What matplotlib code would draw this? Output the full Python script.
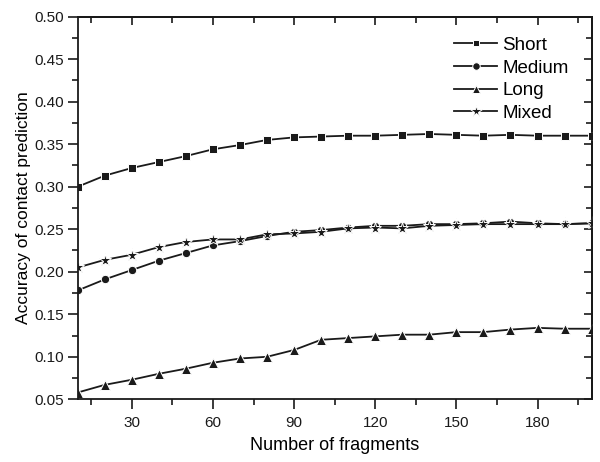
import matplotlib
matplotlib.use("Agg")
from matplotlib import pyplot as plt
from matplotlib.ticker import MultipleLocator, FormatStrFormatter

plt.rcParams['font.family'] = ['Liberation Sans', 'DejaVu Sans']

# Data
fragments = [10, 20, 30, 40, 50, 60, 70, 80, 90, 100,
             110, 120, 130, 140, 150, 160, 170, 180, 190, 200]
short = [0.300, 0.313, 0.322, 0.329, 0.336, 0.344, 0.349, 0.355, 0.358, 0.359,
         0.360, 0.360, 0.361, 0.362, 0.361, 0.360, 0.361, 0.360, 0.360, 0.360]
medium = [0.178, 0.191, 0.202, 0.213, 0.222, 0.231, 0.236, 0.242, 0.247, 0.249,
          0.252, 0.254, 0.254, 0.256, 0.256, 0.257, 0.259, 0.257, 0.256, 0.257]
long_ = [0.058, 0.067, 0.073, 0.080, 0.086, 0.093, 0.098, 0.100, 0.108, 0.120,
         0.122, 0.124, 0.126, 0.126, 0.129, 0.129, 0.132, 0.134, 0.133, 0.133]
mixed = [0.205, 0.214, 0.220, 0.229, 0.235, 0.238, 0.238, 0.244, 0.245, 0.247,
         0.251, 0.252, 0.251, 0.254, 0.255, 0.256, 0.256, 0.256, 0.256, 0.257]

labels = ['Short', 'Medium', 'Long', 'Mixed']
markers = ['s', 'o', '^', '*']
sizes = [5.5, 6, 6.5, 9.5]

ink = '#1a1a1a'

fig = plt.figure(figsize=(6, 4.62), dpi=100)
ax = fig.add_axes([0.1295, 0.1357, 0.8565, 0.8283])

for series, lab, mk, ms in zip([short, medium, long_, mixed], labels, markers, sizes):
    ax.plot(fragments, series, color=ink, linewidth=1.3, marker=mk,
            markersize=ms, markerfacecolor=ink, markeredgecolor='white',
            markeredgewidth=0.7, label=lab)

ax.set_xlim(10, 200)
ax.set_ylim(0.05, 0.50)
ax.xaxis.set_major_locator(MultipleLocator(30))
ax.xaxis.set_minor_locator(MultipleLocator(15))
ax.yaxis.set_major_locator(MultipleLocator(0.05))
ax.yaxis.set_minor_locator(MultipleLocator(0.025))
ax.yaxis.set_major_formatter(FormatStrFormatter('%.2f'))

# bottom/left ticks point out, top/right ticks point in (Origin style)
ax.tick_params(which='both', direction='out', labelsize=11, width=1.2,
               colors=ink)
ax.tick_params(which='major', length=7)
ax.tick_params(which='minor', length=4)
ax.tick_params(axis='x', pad=5)
ax.tick_params(axis='y', pad=3)

for sp in ax.spines.values():
    sp.set_linewidth(1.3)
    sp.set_color(ink)

# inward ticks on top and right
tx = ax.secondary_xaxis('top')
tx.xaxis.set_major_locator(MultipleLocator(30))
tx.xaxis.set_minor_locator(MultipleLocator(15))
tx.tick_params(which='both', direction='in', labeltop=False, width=1.2, colors=ink)
tx.tick_params(which='major', length=6)
tx.tick_params(which='minor', length=4)
tx.spines['top'].set_linewidth(1.3)

ty = ax.secondary_yaxis('right')
ty.yaxis.set_major_locator(MultipleLocator(0.05))
ty.yaxis.set_minor_locator(MultipleLocator(0.025))
ty.tick_params(which='both', direction='in', labelright=False, width=1.2, colors=ink)
ty.tick_params(which='major', length=6)
ty.tick_params(which='minor', length=4)
ty.spines['right'].set_linewidth(1.3)

ax.set_xlabel('Number of fragments', fontsize=13, labelpad=5)
ax.set_ylabel('Accuracy of contact prediction', fontsize=12.5, labelpad=2)

leg = ax.legend(loc='upper right', bbox_to_anchor=(0.977, 0.977), frameon=False,
                fontsize=13.5, handlelength=2.3, handletextpad=0.25,
                labelspacing=0.3, borderaxespad=0.2, markerscale=0.9)

fig.savefig('out.png', dpi=100)
